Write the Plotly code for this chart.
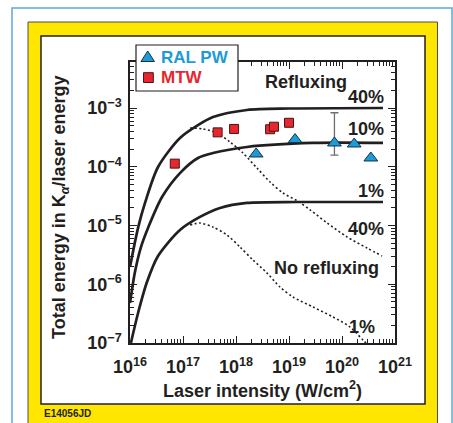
import plotly.graph_objects as go

# ---------------- data ----------------
# Refluxing model curves (solid), fractions 40 %, 10 %, 1 %
refl40_I = [1.0e16, 1.42e16, 1.92e16, 3.38e16, 8.77e16, 1.92e17, 3.68e17, 1.61e18, 1.04e19, 5.94e20]
refl40_E = [1.97e-6, 9.1e-6, 2.42e-5, 9.9e-5, 3.08e-4, 5.1e-4, 7.0e-4, 9.25e-4, 9.8e-4, 1.0e-3]
refl10_I = [1.0e16, 1.24e16, 1.61e16, 2.19e16, 4.02e16, 8.77e16, 1.92e17, 3.68e17, 1.61e18, 2.84e19, 5.94e20]
refl10_E = [4.8e-7, 1.62e-6, 4.3e-6, 9.1e-6, 3.05e-5, 7.8e-5, 1.41e-4, 1.71e-4, 2.17e-4, 2.54e-4, 2.54e-4]
refl1_I = [1.04e16, 1.42e16, 2.09e16, 3.38e16, 8.77e16, 2.09e17, 4.99e17, 1.61e18, 1.42e19, 5.94e20]
refl1_E = [1.0e-7, 3.24e-7, 1.09e-6, 3.03e-6, 8.4e-6, 1.40e-5, 1.99e-5, 2.42e-5, 2.51e-5, 2.51e-5]

# No-refluxing model curves (dotted), 40 % and 1 %
noref40_I = [1.36e17, 2.38e17, 4.39e17, 7.71e17, 1.36e18, 2.49e18, 4.39e18, 7.71e18,
             1.42e19, 2.49e19, 5.21e19, 1.24e20, 2.96e20, 5.69e20]
noref40_E = [4.57e-4, 4.40e-4, 3.75e-4, 2.64e-4, 1.71e-4, 9.5e-5, 5.5e-5, 3.57e-5,
             2.64e-5, 1.85e-5, 1.11e-5, 6.4e-6, 4.14e-6, 3.03e-6]
noref1_I = [1.36e17, 2.09e17, 3.68e17, 6.76e17, 1.19e18, 2.09e18, 3.85e18, 6.76e18,
            1.19e19, 2.84e19, 6.76e19, 1.42e20, 2.49e20, 2.84e20]
noref1_E = [1.02e-5, 1.10e-5, 9.4e-6, 6.9e-6, 4.3e-6, 2.59e-6, 1.55e-6, 8.97e-7,
            6.07e-7, 4.10e-7, 2.77e-7, 1.87e-7, 1.12e-7, 1.0e-7]

# Measurements
mtw_I = [7.0e16, 4.5e17, 9.2e17, 4.4e18, 5.2e18, 1.0e19]
mtw_E = [1.13e-4, 3.85e-4, 4.4e-4, 4.35e-4, 4.8e-4, 5.6e-4]
ral_I = [2.4e18, 1.3e19, 7.2e19, 1.7e20, 3.5e20]
ral_E = [1.65e-4, 2.9e-4, 2.54e-4, 2.44e-4, 1.41e-4]
ral_err_plus = [None, None, 5.76e-4, None, None]
ral_err_minus = [None, None, 0.96e-4, None, None]

legend_labels = ["RAL PW", "MTW"]

x_exponents = [16, 17, 18, 19, 20, 21]
y_exponents = [-7, -6, -5, -4, -3]
x_ticktext = ["10<sup>%d</sup>" % e for e in x_exponents]
y_ticktext = ["10<sup>\u2212%d</sup>" % (-e) for e in y_exponents]

# ---------------- styling ----------------
INK = "#231f20"
BLUE = "#1e9ad6"
RED = "#e8262d"
YELLOW = "#ffe600"
FONT = "Liberation Sans"

W, H = 453, 423
L, R, T, B = 130, 395, 62, 343   # plot area in pixels


def px(x):
    return (x - L) / (R - L)


def py(y):
    return (B - y) / (B - T)


fig = go.Figure()

solid = dict(color=INK, width=2.7, shape="spline", smoothing=0.8)
dotted = dict(color=INK, width=1.6, dash="2px,2.5px", shape="spline", smoothing=0.8)

for xs, ys in [(refl40_I, refl40_E), (refl10_I, refl10_E), (refl1_I, refl1_E)]:
    fig.add_trace(go.Scatter(x=xs, y=ys, mode="lines", line=solid,
                             showlegend=False, hoverinfo="skip", cliponaxis=True))
for xs, ys in [(noref40_I, noref40_E), (noref1_I, noref1_E)]:
    fig.add_trace(go.Scatter(x=xs, y=ys, mode="lines", line=dotted,
                             showlegend=False, hoverinfo="skip", cliponaxis=True))

fig.add_trace(go.Scatter(
    x=ral_I, y=ral_E, mode="markers", name=legend_labels[0], showlegend=False,
    marker=dict(symbol="triangle-up", size=12, color=BLUE,
                line=dict(color="#10344a", width=1)),
    error_y=dict(type="data", symmetric=False, array=ral_err_plus,
                 arrayminus=ral_err_minus, color="#6d6e71", thickness=1.3, width=4),
))
fig.add_trace(go.Scatter(
    x=mtw_I, y=mtw_E, mode="markers", name=legend_labels[1], showlegend=False,
    marker=dict(symbol="square", size=9, color=RED,
                line=dict(color="#4a1214", width=1)),
))

minor_x = [m * 10.0 ** e for e in range(16, 21) for m in range(2, 10)]
minor_y = [m * 10.0 ** e for e in range(-7, -2) for m in range(2, 10)]

axis_common = dict(
    type="log", showgrid=False, zeroline=False, showline=True, linecolor=INK,
    linewidth=1.5, ticks="inside", ticklen=7, tickwidth=1.3, tickcolor=INK,
    mirror="allticks",
    tickfont=dict(family=FONT, size=18, color=INK, weight="bold"),
)

fig.update_xaxes(
    **axis_common, range=[16, 21], tickmode="array",
    tickvals=[10.0 ** e for e in x_exponents], ticktext=x_ticktext,
    minor=dict(tickmode="array", tickvals=minor_x, ticks="inside", ticklen=4,
               tickwidth=1, tickcolor=INK, showgrid=False),
    ticklabelstandoff=7,
)
fig.update_yaxes(
    **axis_common, range=[-7, -2.217], tickmode="array",
    tickvals=[10.0 ** e for e in y_exponents], ticktext=y_ticktext,
    minor=dict(tickmode="array", tickvals=minor_y, ticks="inside", ticklen=4,
               tickwidth=1, tickcolor=INK, showgrid=False),
    ticklabelstandoff=3,
)


def rect(x0, y0, x1, y1, **kw):
    d = dict(type="rect", xref="paper", yref="paper",
             x0=px(x0), x1=px(x1), y0=py(y1), y1=py(y0))
    d.update(kw)
    return d


shapes = [
    # light blue outer rule
    rect(12, 8, 452, 440, line=dict(color="#5aa9da", width=1.5),
         fillcolor="rgba(0,0,0,0)", layer="below"),
    # yellow frame
    rect(28, 22, 437.5, 440, line=dict(color="#4d4d4f", width=1),
         fillcolor=YELLOW, layer="below"),
    # white panel
    rect(41, 36, 425, 404, line=dict(color=INK, width=1.5),
         fillcolor="white", layer="below"),
    # legend box
    rect(136, 45, 238, 91, line=dict(color=INK, width=1.2),
         fillcolor="white", layer="above"),
    # legend symbols
    dict(type="path", xref="paper", yref="paper", layer="above",
         path="M %f %f L %f %f L %f %f Z" % (px(141), py(61.5), px(154.5), py(61.5),
                                             px(147.7), py(51)),
         fillcolor=BLUE, line=dict(color="#10344a", width=1)),
    rect(143.5, 72.7, 153.3, 82.5, line=dict(color="#4a1214", width=1),
         fillcolor=RED, layer="above"),
]

ann_font = dict(family=FONT, size=18, color=INK, weight="bold")
annotations = [
    dict(text="Refluxing", x=px(306), y=py(82), xanchor="center", yanchor="middle"),
    dict(text="40%", x=px(386), y=py(97), xanchor="right", yanchor="middle"),
    dict(text="10%", x=px(386), y=py(129), xanchor="right", yanchor="middle"),
    dict(text="1%", x=px(386), y=py(191), xanchor="right", yanchor="middle"),
    dict(text="40%", x=px(386), y=py(229), xanchor="right", yanchor="middle"),
    dict(text="No refluxing", x=px(381), y=py(268), xanchor="right", yanchor="middle"),
    dict(text="1%", x=px(377), y=py(327), xanchor="right", yanchor="middle"),
    dict(text="Laser intensity (W/cm<sup>2</sup>)", x=px(262), y=py(389),
         xanchor="center", yanchor="middle"),
    dict(text="Total energy in K<sub><i>\u03b1</i></sub>/laser energy", x=px(60), y=py(207),
         xanchor="center", yanchor="middle", textangle=-90),
]
for a in annotations:
    a.update(xref="paper", yref="paper", showarrow=False, font=ann_font)

leg_font = dict(family=FONT, size=17, weight="bold")
annotations.append(dict(text=legend_labels[0], x=px(159), y=py(57.5), xref="paper", yref="paper",
                        xanchor="left", yanchor="middle", showarrow=False,
                        font=dict(leg_font, color=BLUE)))
annotations.append(dict(text=legend_labels[1], x=px(159), y=py(77.5), xref="paper", yref="paper",
                        xanchor="left", yanchor="middle", showarrow=False,
                        font=dict(leg_font, color=RED)))
annotations.append(dict(text="E14056JD", x=px(42), y=py(413), xref="paper", yref="paper",
                        xanchor="left", yanchor="middle", showarrow=False,
                        font=dict(family=FONT, size=10, color=INK, weight="bold")))

fig.update_layout(
    width=W, height=H,
    margin=dict(l=L, r=W - R, t=T, b=H - B, pad=0),
    paper_bgcolor="white", plot_bgcolor="rgba(0,0,0,0)",
    shapes=shapes, annotations=annotations,
    showlegend=False,
    font=dict(family=FONT, color=INK),
)

fig.write_html("out.html", config={"displayModeBar": False},
               post_script="document.body.style.margin='0';")
